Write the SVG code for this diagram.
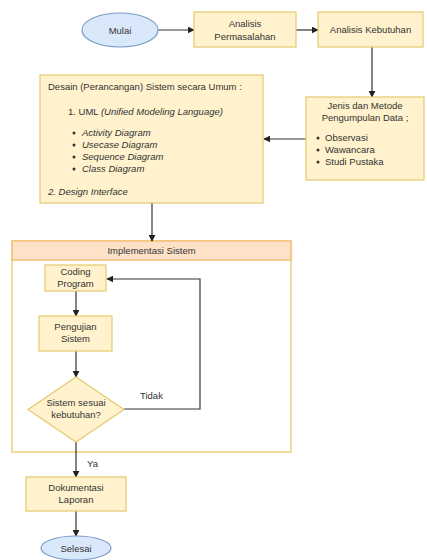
<svg xmlns="http://www.w3.org/2000/svg" width="427" height="560" viewBox="0 0 427 560">
<defs>
<style>
.box{fill:#fff2cc;stroke:#e6c96e;stroke-width:1.2}
.ell{fill:#dae8fc;stroke:#7d9cc9;stroke-width:1.2}
.t{font-family:"Liberation Sans",Arial,sans-serif;font-size:9.5px;fill:#333}
.c{text-anchor:middle}
.i{font-style:italic}
.ln{fill:none;stroke:#333;stroke-width:1.2}
</style>
<marker id="ar" viewBox="0 0 10 10" refX="9" refY="5" markerWidth="7" markerHeight="7" orient="auto" markerUnits="userSpaceOnUse">
<path d="M0,0 L10,5 L0,10 Z" fill="#222"/>
</marker>
</defs>
<rect width="427" height="560" fill="#fff"/>

<g id="implementasi">
<rect x="12" y="241" width="279" height="211" fill="#fff" stroke="#f0cf7a" stroke-width="1.5"/>
<rect x="12" y="241" width="279" height="19" fill="#fde2c8" stroke="#f2c27a" stroke-width="1.5"/>
<text class="t c" x="151.5" y="254">Implementasi Sistem</text>
</g>

<g id="connectors">
<line class="ln" x1="158" y1="30" x2="194" y2="30" marker-end="url(#ar)"/>
<line class="ln" x1="296" y1="30" x2="318" y2="30" marker-end="url(#ar)"/>
<line class="ln" x1="372" y1="47" x2="372" y2="97" marker-end="url(#ar)"/>
<line class="ln" x1="306" y1="139" x2="264" y2="139" marker-end="url(#ar)"/>
<line class="ln" x1="152" y1="203" x2="152" y2="241" marker-end="url(#ar)"/>
<line class="ln" x1="76" y1="291" x2="76" y2="316" marker-end="url(#ar)"/>
<line class="ln" x1="76" y1="351" x2="76" y2="377" marker-end="url(#ar)"/>
<polyline class="ln" points="124,409 200,409 200,279 107,279" stroke="#444" marker-end="url(#ar)"/>
<line class="ln" x1="76" y1="442" x2="76" y2="477" marker-end="url(#ar)"/>
<line class="ln" x1="76" y1="511" x2="76" y2="536" marker-end="url(#ar)"/>
<text class="t" x="140" y="399">Tidak</text>
<text class="t" x="87" y="467">Ya</text>
</g>

<g id="mulai">
<ellipse class="ell" cx="120" cy="30" rx="38" ry="17"/>
<text class="t c" x="120" y="33.5">Mulai</text>
</g>

<g id="analisis-permasalahan">
<rect class="box" x="194" y="12" width="102" height="35"/>
<text class="t c" x="245" y="26.5">Analisis</text>
<text class="t c" x="245" y="39.5">Permasalahan</text>
</g>

<g id="analisis-kebutuhan">
<rect class="box" x="318" y="12" width="105" height="35"/>
<text class="t c" x="370.5" y="33">Analisis Kebutuhan</text>
</g>

<g id="jenis-metode">
<rect class="box" x="306" y="97" width="118" height="83"/>
<text class="t c" x="365" y="109">Jenis dan Metode</text>
<text class="t c" x="365" y="121">Pengumpulan Data ;</text>
<circle cx="318" cy="138" r="1.5" fill="#333"/>
<text class="t" x="325" y="141">Observasi</text>
<circle cx="318" cy="150" r="1.5" fill="#333"/>
<text class="t" x="325" y="153">Wawancara</text>
<circle cx="318" cy="162" r="1.5" fill="#333"/>
<text class="t" x="325" y="165">Studi Pustaka</text>
</g>

<g id="desain">
<rect class="box" x="40" y="75" width="223" height="128"/>
<text class="t" x="48" y="90">Desain (Perancangan) Sistem secara Umum :</text>
<text class="t" x="68" y="115">1. UML <tspan class="i">(Unified Modeling Language)</tspan></text>
<circle cx="74" cy="133" r="1.5" fill="#333"/>
<text class="t i" x="82" y="136">Activity Diagram</text>
<circle cx="74" cy="145" r="1.5" fill="#333"/>
<text class="t i" x="82" y="148">Usecase Diagram</text>
<circle cx="74" cy="157" r="1.5" fill="#333"/>
<text class="t i" x="82" y="160">Sequence Diagram</text>
<circle cx="74" cy="169" r="1.5" fill="#333"/>
<text class="t i" x="82" y="172">Class Diagram</text>
<text class="t i" x="48" y="195">2. Design Interface</text>
</g>

<g id="coding-program">
<rect class="box" x="45" y="265" width="61" height="26"/>
<text class="t c" x="75.5" y="275">Coding</text>
<text class="t c" x="75.5" y="287">Program</text>
</g>

<g id="pengujian-sistem">
<rect class="box" x="39" y="316" width="73" height="35"/>
<text class="t c" x="75.5" y="330">Pengujian</text>
<text class="t c" x="75.5" y="342">Sistem</text>
</g>

<g id="keputusan">
<polygon points="76,377 124,409.5 76,442 28,409.5" fill="#fff2cc" stroke="#e6c96e" stroke-width="1.2"/>
<text class="t c" x="76" y="406">Sistem sesuai</text>
<text class="t c" x="76" y="418">kebutuhan?</text>
</g>

<g id="dokumentasi">
<rect class="box" x="26" y="477" width="100" height="34"/>
<text class="t c" x="76" y="491">Dokumentasi</text>
<text class="t c" x="76" y="503">Laporan</text>
</g>

<g id="selesai">
<ellipse class="ell" cx="76" cy="548" rx="35" ry="12"/>
<text class="t c" x="76" y="551.5">Selesai</text>
</g>
</svg>
